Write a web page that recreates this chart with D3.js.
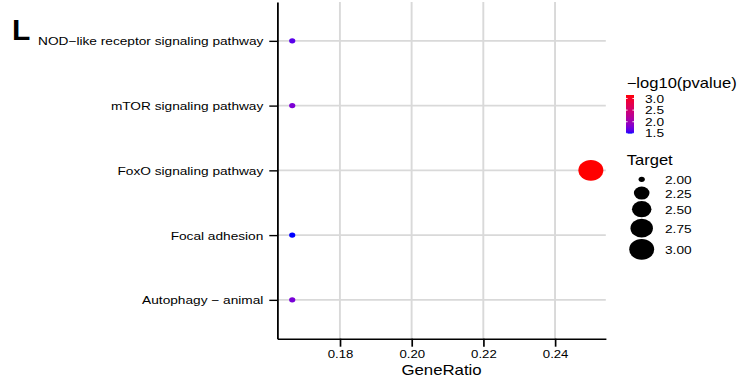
<!DOCTYPE html>
<html>
<head>
<meta charset="utf-8">
<script src="https://cdn.jsdelivr.net/npm/d3@7"></script>
<style>
  html, body { margin: 0; padding: 0; background: #fff; }
  svg { display: block; font-family: "Liberation Sans", Arial, sans-serif; }
</style>
</head>
<body>
<svg id="chart" width="749" height="383"></svg>
<script>
// KEGG enrichment dot plot
const pathways = [
  "NOD\u2212like receptor signaling pathway",
  "mTOR signaling pathway",
  "FoxO signaling pathway",
  "Focal adhesion",
  "Autophagy \u2212 animal"
];
const geneRatio = [0.1667, 0.1667, 0.25, 0.1667, 0.1667];
const target    = [2, 2, 3, 2, 2];
const negLogP   = [1.63, 1.78, 3.15, 1.49, 1.76];

const xTicks     = [0.18, 0.20, 0.22, 0.24];
const colorTicks = [1.5, 2.0, 2.5, 3.0];
const sizeBreaks = [2.00, 2.25, 2.50, 2.75, 3.00];

const data = pathways.map((p, i) => ({
  pathway: p, ratio: geneRatio[i], target: target[i], p: negLogP[i]
}));

// whole figure is drawn with a horizontal stretch
const SX = 1.2;
const sx = v => v / SX;

const svg = d3.select("#chart");
svg.append("text")
  .attr("x", 12).attr("y", 40)
  .attr("font-size", 30).attr("font-weight", "bold")
  .text("L");

const g = svg.append("g").attr("transform", `scale(${SX},1)`);

const panel = { left: 277.3, right: 605.8, top: 2, bottom: 338.7 };

const rMin = d3.min(geneRatio), rMax = d3.max(geneRatio);
const pad = (rMax - rMin) * 0.05;
const x = d3.scaleLinear()
  .domain([rMin - pad, rMax + pad])
  .range([sx(panel.left), sx(panel.right)]);

const y = d3.scalePoint()
  .domain(pathways.slice().reverse())
  .range([panel.bottom, panel.top])
  .padding(0.6);

const pMin = d3.min(negLogP), pMax = d3.max(negLogP);
const color = d3.scaleLinear()
  .domain([pMin, pMax])
  .range(["blue", "red"])
  .interpolate(d3.interpolateLab);

// ggplot-style area scale: size 1..6, diameter in px
const tMin = d3.min(target), tMax = d3.max(target);
const sizeOf = v => 1 + 5 * Math.sqrt((v - tMin) / (tMax - tMin));
const diam = v => (sizeOf(v) * 2.845 + 0.945) * 1.1 + 1;

// grid
const grid = g.append("g");
grid.selectAll(".vg").data(xTicks).join("line")
  .attr("x1", d => x(d)).attr("x2", d => x(d))
  .attr("y1", panel.top).attr("y2", panel.bottom)
  .attr("stroke", "#d9d9d9").attr("stroke-width", 1.6);
grid.selectAll(".hg").data(pathways).join("line")
  .attr("x1", sx(panel.left)).attr("x2", sx(panel.right))
  .attr("y1", d => y(d)).attr("y2", d => y(d))
  .attr("stroke", "#d9d9d9").attr("stroke-width", 1.6);

// points
g.append("g").selectAll("circle").data(data).join("circle")
  .attr("cx", d => x(d.ratio))
  .attr("cy", d => y(d.pathway))
  .attr("r", d => diam(d.target) / 2)
  .attr("fill", d => color(d.p));

// axes
const tickLen = 8;
const yAxis = g.append("g")
  .attr("transform", `translate(${sx(panel.left)},0)`)
  .call(d3.axisLeft(y).tickSize(sx(tickLen)).tickSizeOuter(0).tickPadding(sx(6)));
const xAxis = g.append("g")
  .attr("transform", `translate(0,${panel.bottom})`)
  .call(d3.axisBottom(x).tickValues(xTicks).tickFormat(d3.format(".2f"))
        .tickSize(tickLen).tickSizeOuter(0).tickPadding(3.3));

[yAxis, xAxis].forEach(a => {
  a.select(".domain").attr("stroke", "#000").attr("stroke-width", 1.5);
  a.selectAll(".tick line").attr("stroke", "#000").attr("stroke-width", 1.4);
  a.selectAll("text").attr("fill", "#000").attr("font-family", "Liberation Sans, Arial, sans-serif");
});
yAxis.selectAll("text").attr("font-size", 11.4).attr("dy", "0.36em");
xAxis.selectAll("text").attr("font-size", 11);

g.append("text")
  .attr("x", (sx(panel.left) + sx(panel.right)) / 2)
  .attr("y", 375)
  .attr("text-anchor", "middle")
  .attr("font-size", 14)
  .text("GeneRatio");

// colour legend
const leg = g.append("g");
leg.append("text").attr("x", sx(626.7)).attr("y", 88)
  .attr("font-size", 13.8).text("\u2212log10(pvalue)");

const barX = sx(626), barW = sx(8), barTop = 95, barBot = 133.6;
const cb = d3.scaleLinear().domain([pMin, pMax]).range([barBot, barTop]);
const defs = svg.append("defs");
const grad = defs.append("linearGradient").attr("id", "cbar")
  .attr("x1", 0).attr("y1", 1).attr("x2", 0).attr("y2", 0);
d3.range(0, 1.0001, 0.05).forEach(t => {
  grad.append("stop").attr("offset", t)
    .attr("stop-color", color(pMin + t * (pMax - pMin)));
});
leg.append("rect").attr("x", barX).attr("y", barTop)
  .attr("width", barW).attr("height", barBot - barTop)
  .attr("fill", "url(#cbar)");
const cTicks = colorTicks.filter(v => v >= pMin && v <= pMax);
leg.selectAll(".ctl").data(cTicks).join("line")
  .attr("x1", barX).attr("x2", barX + barW / 5)
  .attr("y1", d => cb(d)).attr("y2", d => cb(d))
  .attr("stroke", "#fff").attr("stroke-width", 0.8);
leg.selectAll(".ctr").data(cTicks).join("line")
  .attr("x1", barX + barW * 4 / 5).attr("x2", barX + barW)
  .attr("y1", d => cb(d)).attr("y2", d => cb(d))
  .attr("stroke", "#fff").attr("stroke-width", 0.8);
leg.selectAll(".clab").data(colorTicks).join("text")
  .attr("x", sx(645)).attr("y", d => cb(d))
  .attr("dy", "0.36em").attr("font-size", 11.4)
  .text(d => d.toFixed(1));

// size legend
leg.append("text").attr("x", sx(626.7)).attr("y", 165)
  .attr("font-size", 13.8).text("Target");
let yy = 172.8;
const keys = sizeBreaks.map(v => {
  const h = Math.max(13, diam(v) + 1.5);
  const k = { v, cy: yy + h / 2 };
  yy += h;
  return k;
});
leg.selectAll(".sk").data(keys).join("circle")
  .attr("cx", sx(641.7)).attr("cy", d => d.cy)
  .attr("r", d => diam(d.v) / 2).attr("fill", "#000");
leg.selectAll(".sl").data(keys).join("text")
  .attr("x", sx(665)).attr("y", d => d.cy)
  .attr("dy", "0.42em").attr("font-size", 11.4)
  .text(d => d.v.toFixed(2));
</script>
</body>
</html>
